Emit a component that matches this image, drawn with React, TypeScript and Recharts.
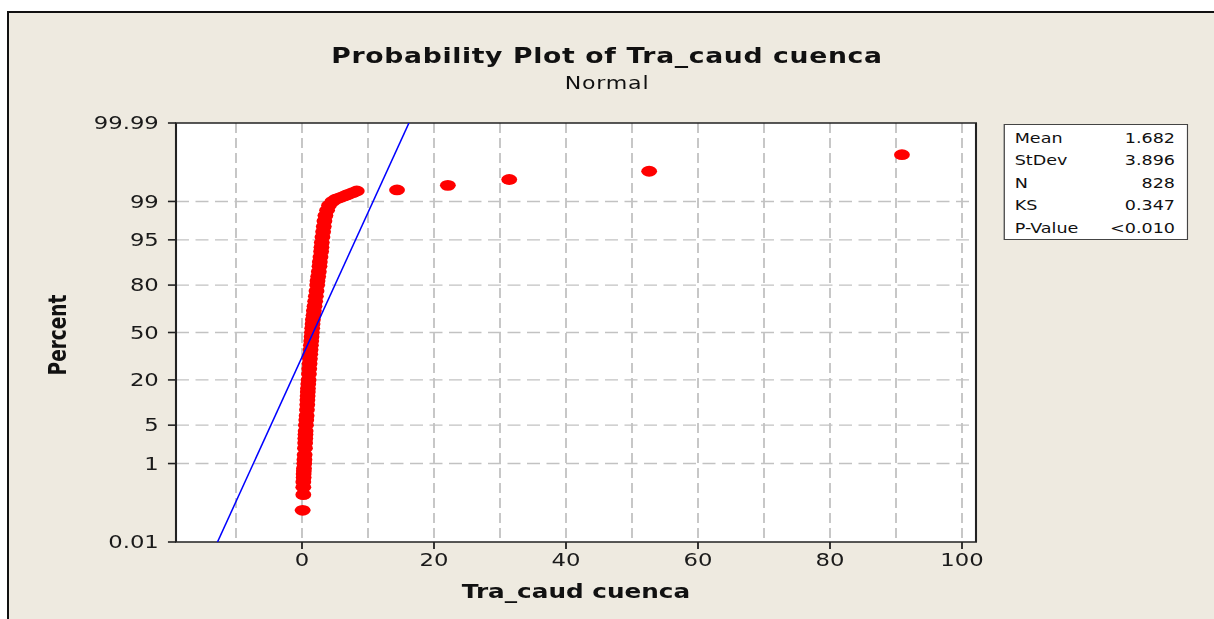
import React from "react";
import { CartesianGrid, ReferenceArea, Scatter, ScatterChart, XAxis, YAxis } from "recharts";

// plotted points (value, percent)
const sampleValue = [
  0.1, 0.2, 0.2, 0.2, 0.25, 0.25, 0.28, 0.3, 0.35, 0.37,
  0.4, 0.45, 0.48, 0.5, 0.53, 0.55, 0.6, 0.65, 0.7, 0.75,
  0.8, 0.82, 0.85, 0.88, 0.9, 0.95, 1.0, 1.05, 1.1, 1.15,
  1.2, 1.25, 1.3, 1.35, 1.4, 1.45, 1.5, 1.55, 1.6, 1.65,
  1.75, 1.8, 1.9, 2.0, 2.1, 2.2, 2.3, 2.35, 2.45, 2.55,
  2.65, 2.7, 2.8, 2.9, 2.95, 3.0, 3.1, 3.2, 3.3, 3.4,
  3.55, 3.8, 4.1, 4.6, 5.1, 5.6, 6.1, 6.6, 7.1, 7.7,
  8.3, 14.4, 22.1, 31.4, 52.6, 90.9,
];
const samplePercent = [
  0.08, 0.2, 0.3, 0.4, 0.5, 0.6, 0.7, 0.8, 1, 1.2,
  1.5, 2, 2.5, 3, 3.5, 4, 5, 6, 7, 8.5,
  10, 11.5, 13, 14.5, 16, 18, 20, 23, 26, 29,
  32, 35, 38, 41, 44, 47, 50, 53, 56, 59,
  62, 65, 68, 71, 74, 77, 80, 82, 84, 86,
  88, 89.5, 91, 92.5, 93.5, 94.5, 95.5, 96.3, 97, 97.6,
  98.1, 98.5, 98.8, 99.0, 99.1, 99.15, 99.2, 99.25, 99.3, 99.35,
  99.4, 99.43, 99.55, 99.67, 99.79, 99.92,
];

// fitted normal line, end points
const fitValue = [-12.8, 16.2];
const fitPercent = [0.01, 99.99];

const yTickPercent = [0.01, 1, 5, 20, 50, 80, 95, 99, 99.99];
const yTickLabels = ["0.01", "1", "5", "20", "50", "80", "95", "99", "99.99"];
const yGridPercent = [1, 5, 20, 50, 80, 95, 99];
const xTicks = [0, 20, 40, 60, 80, 100];
const xGrid = [-10, 0, 10, 20, 30, 40, 50, 60, 70, 80, 90, 100];

const statLabels = ["Mean", "StDev", "N", "KS", "P-Value"];
const statValues = ["1.682", "3.896", "828", "0.347", "<0.010"];

// inverse normal cdf (Acklam) for the probability scale
function probit(p: number) {
  const a = [-39.69683028665376, 220.9460984245205, -275.9285104469687, 138.357751867269, -30.66479806614716, 2.506628277459239];
  const b = [-54.47609879822406, 161.5858368580409, -155.6989798598866, 66.80131188771972, -13.28068155288572];
  const c = [-0.007784894002430293, -0.3223964580411365, -2.400758277161838, -2.549732539343734, 4.374664141464968, 2.938163982698783];
  const d = [0.007784695709041462, 0.3224671290700398, 2.445134137142996, 3.754408661907416];
  const lo = 0.02425;
  if (p < lo) {
    const q = Math.sqrt(-2 * Math.log(p));
    return (((((c[0] * q + c[1]) * q + c[2]) * q + c[3]) * q + c[4]) * q + c[5]) / ((((d[0] * q + d[1]) * q + d[2]) * q + d[3]) * q + 1);
  }
  if (p > 1 - lo) {
    const q = Math.sqrt(-2 * Math.log(1 - p));
    return -(((((c[0] * q + c[1]) * q + c[2]) * q + c[3]) * q + c[4]) * q + c[5]) / ((((d[0] * q + d[1]) * q + d[2]) * q + d[3]) * q + 1);
  }
  const q = p - 0.5;
  const r = q * q;
  return ((((((a[0] * r + a[1]) * r + a[2]) * r + a[3]) * r + a[4]) * r + a[5]) * q) / (((((b[0] * r + b[1]) * r + b[2]) * r + b[3]) * r + b[4]) * r + 1);
}

const points = sampleValue.map((v, i) => ({ value: v, q: probit(samplePercent[i] / 100) }));
const fitLine = fitValue.map((v, i) => ({ value: v, q: probit(fitPercent[i] / 100) }));

const S = 1.3; // the original picture is stretched sideways
const W = 1214 / S;
const PLOT_LEFT = 176 / S;
const PLOT_RIGHT = 976 / S;
const X_MIN = -19.09;
const X_MAX = 102.12;
const Q_MIN = probit(0.0001);
const Q_MAX = probit(0.9999);
const FONT = "'DejaVu Sans', Verdana, sans-serif";

const Dot = (props: any) => <ellipse cx={props.cx} cy={props.cy} rx={6.1} ry={5.4} fill="#ff0000" />;

export default function App() {
  return (
    <div style={{ position: "absolute", left: 0, top: 0, width: 1214, height: 619, background: "#fff", overflow: "hidden" }}>
      <div
        style={{
          position: "absolute",
          left: 7,
          top: 11,
          width: 1220,
          height: 620,
          background: "#eeeae0",
          borderTop: "2px solid #111",
          borderLeft: "2px solid #111",
        }}
      />
      <div
        style={{
          position: "absolute",
          left: 0,
          top: 0,
          width: W,
          height: 619,
          transform: `scaleX(${S})`,
          transformOrigin: "0 0",
          fontFamily: FONT,
          color: "#111",
        }}
      >
        <div style={{ position: "absolute", left: 0, width: W, top: 45.5, textAlign: "center", fontSize: 20.5, lineHeight: "20.5px", fontWeight: 700, letterSpacing: 0.5 }}>
          Probability Plot of Tra_caud cuenca
        </div>
        <div style={{ position: "absolute", left: 0, width: W, top: 74.5, textAlign: "center", fontSize: 17, lineHeight: "17px", letterSpacing: 0.6 }}>
          Normal
        </div>

        <ScatterChart width={W} height={619} margin={{ top: 123, right: W - PLOT_RIGHT, bottom: 0, left: 0 }}>
          <CartesianGrid
            verticalValues={xGrid}
            horizontalValues={yGridPercent.map((p) => probit(p / 100))}
            stroke="#c2c2c2"
            strokeWidth={1.4}
            strokeDasharray="10 5"
            fill="#ffffff"
          />
          <XAxis
            type="number"
            dataKey="value"
            domain={[X_MIN, X_MAX]}
            allowDataOverflow
            ticks={xTicks}
            height={77}
            tickSize={7}
            tickMargin={5}
            axisLine={false}
            tickLine={{ stroke: "#222", strokeWidth: 1.4 }}
            tick={{ fontSize: 17.5, fill: "#1a1a1a", fontFamily: FONT }}
          />
          <YAxis
            type="number"
            dataKey="q"
            domain={[Q_MIN, Q_MAX]}
            allowDataOverflow
            ticks={yTickPercent.map((p) => probit(p / 100))}
            tickFormatter={(_v: number, i: number) => yTickLabels[i]}
            width={PLOT_LEFT}
            tickSize={6.2}
            tickMargin={7}
            axisLine={false}
            tickLine={{ stroke: "#222", strokeWidth: 1.6 }}
            tick={{ fontSize: 17.5, fill: "#1a1a1a", fontFamily: FONT }}
          />
          <ReferenceArea x1={X_MIN} x2={X_MAX} y1={Q_MIN} y2={Q_MAX} fill="none" stroke="#222" strokeWidth={1.6} ifOverflow="visible" />
          <Scatter data={points} shape={Dot} isAnimationActive={false} />
          <Scatter
            data={fitLine}
            line={{ stroke: "#0000ff", strokeWidth: 1.2 }}
            shape={() => <g />}
            isAnimationActive={false}
          />
        </ScatterChart>

        <div
          style={{
            position: "absolute",
            left: 45.4,
            top: 335,
            transform: "translate(-50%, -50%) rotate(-90deg)",
            fontSize: 18.5,
            lineHeight: "18.5px",
            fontWeight: 700,
            whiteSpace: "nowrap",
          }}
        >
          Percent
        </div>
        <div
          style={{
            position: "absolute",
            left: PLOT_LEFT,
            width: PLOT_RIGHT - PLOT_LEFT,
            top: 582,
            textAlign: "center",
            fontSize: 19,
            lineHeight: "19px",
            fontWeight: 700,
          }}
        >
          Tra_caud cuenca
        </div>

        <div
          style={{
            position: "absolute",
            left: 1003 / S,
            top: 124,
            width: 185 / S,
            height: 116,
            boxSizing: "border-box",
            border: "1px solid #444",
            background: "#fff",
            paddingTop: 1.75,
            fontSize: 13.5,
          }}
        >
          {statLabels.map((label, i) => (
            <div key={label} style={{ display: "flex", justifyContent: "space-between", height: 22.5, lineHeight: "22.5px", padding: "0 9px 0 8px" }}>
              <span>{label}</span>
              <span>{statValues[i]}</span>
            </div>
          ))}
        </div>
      </div>
    </div>
  );
}
